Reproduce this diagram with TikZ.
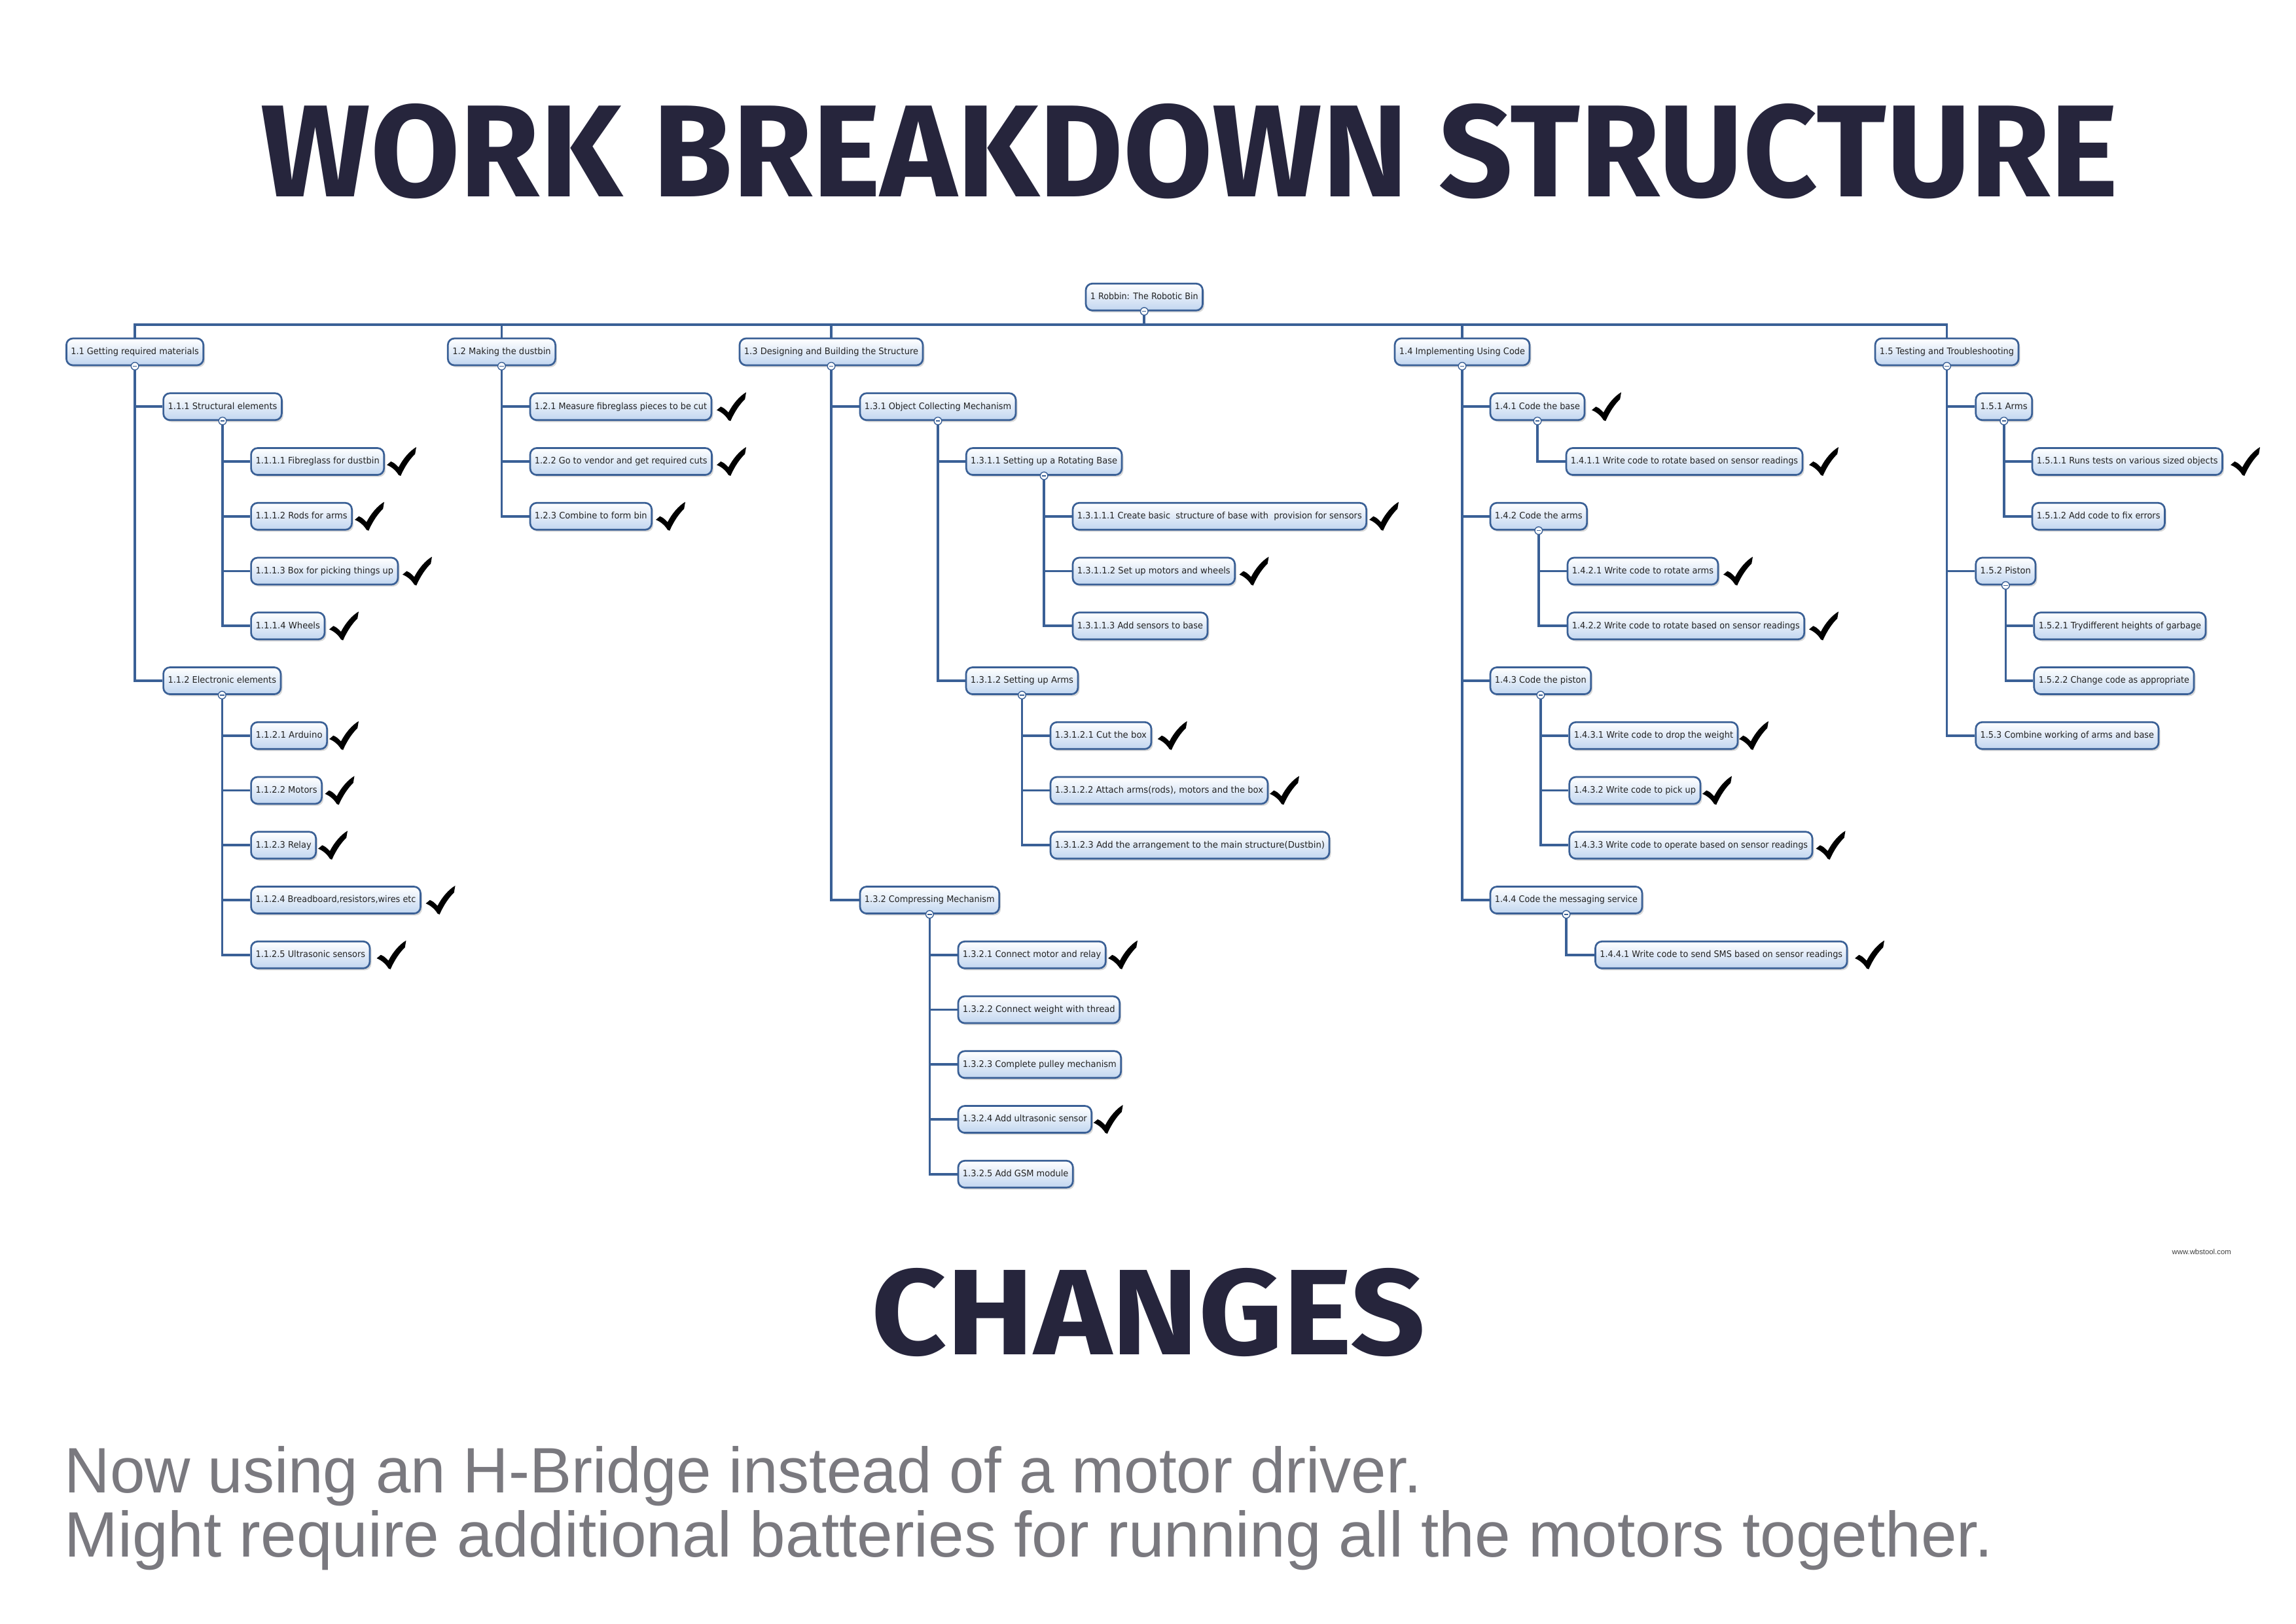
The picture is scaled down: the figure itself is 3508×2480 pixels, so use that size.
\documentclass[tikz,border=0pt]{standalone}
\usepackage{fontspec}
\usepackage{graphicx}
\usetikzlibrary{shadows,calc}
\newfontfamily\wbsfont{DejaVu Sans}
\newfontfamily\titlefont{Fira Sans}
\newfontfamily\bodyfont{Liberation Sans}
\definecolor{wbsline}{RGB}{58,96,150}
\definecolor{wbsfill}{RGB}{194,214,240}
\definecolor{titlecol}{RGB}{38,37,60}
\definecolor{graytext}{RGB}{122,121,127}
\definecolor{nodetext}{RGB}{35,35,35}
\newsavebox\fitbox
\newlength\fitlen
\newcommand\fitw[2]{\sbox\fitbox{#2}\setlength\fitlen{\wd\fitbox}\pgfmathsetmacro\fitsx{(#1)*0.284528/\fitlen}\scalebox{\fitsx}[1]{\usebox\fitbox}}
\tikzset{
 wbsbox/.style={rectangle, rounded corners=0.1cm, draw=wbsline, line width=0.027cm,
   top color=white, bottom color=wbsfill, minimum height=0.41cm, inner sep=0pt,
   text=nodetext, font=\wbsfont\fontsize{3.9}{4.5}\selectfont,
   text height=0.105cm, text depth=0.03cm,
   drop shadow={shadow xshift=0.025cm, shadow yshift=-0.03cm, opacity=0.3}},
 conn/.style={draw=wbsline, line width=0.036cm},
}
\newcommand\wbs[5]{%
 \pgfmathsetmacro\wbsW{#3-#2}%
 \pgfmathsetmacro\wbsX{(#2+#3)/2}%
 \pgfmathsetmacro\wbsY{537.5+83.75*(#4)}%
 \node[wbsbox, minimum width=\wbsW*0.01cm] (#1) at (\wbsX,\wbsY) {\fitw{\wbsW-14}{#5}};}
\newcommand\chk[2]{%
 \pgfmathsetmacro\chkY{537.5+83.75*(#2)-22}%
 \fill[black, shift={(#1,\chkY)}, xscale=45, yscale=44]
   (0,0.62) -- (0.14,0.50) .. controls (0.25,0.55) .. (0.40,0.70)
   .. controls (0.55,0.40) and (0.78,0.13) .. (1.00,0.00)
   -- (0.96,0.24) .. controls (0.80,0.40) and (0.62,0.65) .. (0.47,1.00)
   -- (0.40,0.97) .. controls (0.30,0.80) and (0.15,0.68) .. (0,0.62) -- cycle;}
\begin{document}
\begin{tikzpicture}[x=0.01cm, y=-0.01cm]
\useasboundingbox (0,0) rectangle (3508,2480);
\fill[white] (0,0) rectangle (3508,2480);

\node[anchor=north west, inner sep=0pt, text=titlecol] (title) at (398,158)
  {\resizebox{28.36cm}{1.42cm}{\titlefont\bfseries WORK BREAKDOWN STRUCTURE}};
\node[anchor=north west, inner sep=0pt, text=titlecol] (changes) at (1331,1937)
  {\resizebox{8.46cm}{1.32cm}{\titlefont\bfseries CHANGES}};
\node[anchor=base west, inner sep=0pt, text=graytext] (line1) at (98,2280)
  {\resizebox{20.72cm}{0.71cm}{\bodyfont Now using an H-Bridge instead of a motor driver.}};
\node[anchor=base west, inner sep=0pt, text=graytext] (line2) at (98,2378)
  {\resizebox{29.44cm}{0.71cm}{\bodyfont Might require additional batteries for running all the motors together.}};
\node[anchor=base west, inner sep=0pt, text=black!75] (url) at (3318,1916)
  {\resizebox{0.90cm}{!}{\bodyfont www.wbstool.com}};

% nodes
\wbs{n1}{1659}{1837.5}{-1}{1 Robbin: The Robotic Bin}
\wbs{n11}{101.4}{310.8}{0}{1.1 Getting required materials}
\wbs{n12}{684.3}{848.6}{0}{1.2 Making the dustbin}
\wbs{n13}{1130}{1410}{0}{1.3 Designing and Building the Structure}
\wbs{n14}{2131}{2337}{0}{1.4 Implementing Using Code}
\wbs{n15}{2865}{3084}{0}{1.5 Testing and Troubleshooting}

\wbs{n111}{249.6}{430.4}{1}{1.1.1 Structural elements}
\wbs{n1111}{383.6}{586.7}{2}{1.1.1.1 Fibreglass for dustbin}
\wbs{n1112}{383.6}{537.6}{3}{1.1.1.2 Rods for arms}
\wbs{n1113}{383.6}{608}{4}{1.1.1.3 Box for picking things up}
\wbs{n1114}{383.6}{496}{5}{1.1.1.4 Wheels}
\wbs{n112}{249.6}{429}{6}{1.1.2 Electronic elements}
\wbs{n1121}{383.6}{499.6}{7}{1.1.2.1 Arduino}
\wbs{n1122}{383.6}{491.6}{8}{1.1.2.2 Motors}
\wbs{n1123}{383.6}{482.7}{9}{1.1.2.3 Relay}
\wbs{n1124}{383.6}{642.5}{10}{1.1.2.4 Breadboard,resistors,wires etc}
\wbs{n1125}{383.6}{565}{11}{1.1.2.5 Ultrasonic sensors}

\wbs{n121}{810}{1087}{1}{1.2.1 Measure fibreglass pieces to be cut}
\wbs{n122}{810}{1087.5}{2}{1.2.2 Go to vendor and get required cuts}
\wbs{n123}{810}{995.7}{3}{1.2.3 Combine to form bin}

\wbs{n131}{1314}{1552}{1}{1.3.1 Object Collecting Mechanism}
\wbs{n1311}{1476.3}{1714}{2}{1.3.1.1 Setting up a Rotating Base}
\wbs{n13111}{1639}{2087.6}{3}{1.3.1.1.1 Create basic\ \ structure of base with\ \ provision for sensors}
\wbs{n13112}{1639}{1886.7}{4}{1.3.1.1.2 Set up motors and wheels}
\wbs{n13113}{1639}{1845}{5}{1.3.1.1.3 Add sensors to base}
\wbs{n1312}{1476}{1647}{6}{1.3.1.2 Setting up Arms}
\wbs{n13121}{1605}{1759}{7}{1.3.1.2.1 Cut the box}
\wbs{n13122}{1605}{1937}{8}{1.3.1.2.2 Attach arms(rods), motors and the box}
\wbs{n13123}{1605}{2031}{9}{1.3.1.2.3 Add the arrangement to the main structure(Dustbin)}
\wbs{n132}{1314}{1526.7}{10}{1.3.2 Compressing Mechanism}
\wbs{n1321}{1464}{1689.3}{11}{1.3.2.1 Connect motor and relay}
\wbs{n1322}{1464}{1710.7}{12}{1.3.2.2 Connect weight with thread}
\wbs{n1323}{1464}{1712.7}{13}{1.3.2.3 Complete pulley mechanism}
\wbs{n1324}{1464}{1667.7}{14}{1.3.2.4 Add ultrasonic sensor}
\wbs{n1325}{1464}{1639.3}{15}{1.3.2.5 Add GSM module}

\wbs{n141}{2277}{2421}{1}{1.4.1 Code the base}
\wbs{n1411}{2393}{2754}{2}{1.4.1.1 Write code to rotate based on sensor readings}
\wbs{n142}{2277}{2424.6}{3}{1.4.2 Code the arms}
\wbs{n1421}{2395}{2625}{4}{1.4.2.1 Write code to rotate arms}
\wbs{n1422}{2395}{2756.7}{5}{1.4.2.2 Write code to rotate based on sensor readings}
\wbs{n143}{2277}{2430.8}{6}{1.4.3 Code the piston}
\wbs{n1431}{2397.8}{2655}{7}{1.4.3.1 Write code to drop the weight}
\wbs{n1432}{2397.8}{2598}{8}{1.4.3.2 Write code to pick up}
\wbs{n1433}{2397.8}{2769}{9}{1.4.3.3 Write code to operate based on sensor readings}
\wbs{n144}{2277}{2509}{10}{1.4.4 Code the messaging service}
\wbs{n1441}{2437.5}{2822}{11}{1.4.4.1 Write code to send SMS based on sensor readings}

\wbs{n151}{3018.7}{3104.7}{1}{1.5.1 Arms}
\wbs{n1511}{3105}{3395.5}{2}{1.5.1.1 Runs tests on various sized objects}
\wbs{n1512}{3105}{3307.4}{3}{1.5.1.2 Add code to fix errors}
\wbs{n152}{3018.7}{3110}{4}{1.5.2 Piston}
\wbs{n1521}{3107.8}{3370}{5}{1.5.2.1 Trydifferent heights of garbage}
\wbs{n1522}{3107.8}{3352}{6}{1.5.2.2 Change code as appropriate}
\wbs{n153}{3018.7}{3298}{7}{1.5.3 Combine working of arms and base}

% connectors
\coordinate (bus) at (0,496);
\draw[conn] (n1.south) -- (n1.south |- bus);
\draw[conn] (n11.north) -- (n11.north |- bus) -- (n15.north |- bus) -- (n15.north);
\foreach \n in {n12,n13,n14} \draw[conn] (\n.north) -- (\n.north |- bus);
\foreach \p/\cs in {n11/{n111,n112}, n111/{n1111,n1112,n1113,n1114},
  n112/{n1121,n1122,n1123,n1124,n1125}, n12/{n121,n122,n123},
  n13/{n131,n132}, n131/{n1311,n1312}, n1311/{n13111,n13112,n13113},
  n1312/{n13121,n13122,n13123}, n132/{n1321,n1322,n1323,n1324,n1325},
  n14/{n141,n142,n143,n144}, n141/{n1411}, n142/{n1421,n1422},
  n143/{n1431,n1432,n1433}, n144/{n1441},
  n15/{n151,n152,n153}, n151/{n1511,n1512}, n152/{n1521,n1522}}
  {\foreach \c in \cs {\draw[conn] (\p.south) |- (\c.west);}}

% expand markers
\foreach \p in {n1,n11,n12,n13,n14,n15,n111,n112,n131,n1311,n1312,n132,n141,n142,n143,n144,n151,n152} {
  \filldraw[draw=wbsline, fill=white, line width=0.014cm] (\p.south) circle[radius=0.058cm];
  \draw[wbsline, line width=0.014cm] ([xshift=-0.032cm]\p.south) -- ([xshift=0.032cm]\p.south);
}

% check marks
\chk{591}{2}\chk{542}{3}\chk{615}{4}\chk{503}{5}
\chk{503}{7}\chk{496.5}{8}\chk{486}{9}\chk{650.5}{10}\chk{575.5}{11}
\chk{1095}{1}\chk{1095}{2}\chk{1002}{3}
\chk{2092}{3}\chk{1893.5}{4}\chk{1768.7}{7}\chk{1940}{8}
\chk{1693}{11}\chk{1670.7}{14}
\chk{2432}{1}\chk{2764}{2}\chk{2633}{4}\chk{2764}{5}
\chk{2657}{7}\chk{2601}{8}\chk{2774.5}{9}\chk{2834}{11}
\chk{3408}{2}
\end{tikzpicture}
\end{document}
